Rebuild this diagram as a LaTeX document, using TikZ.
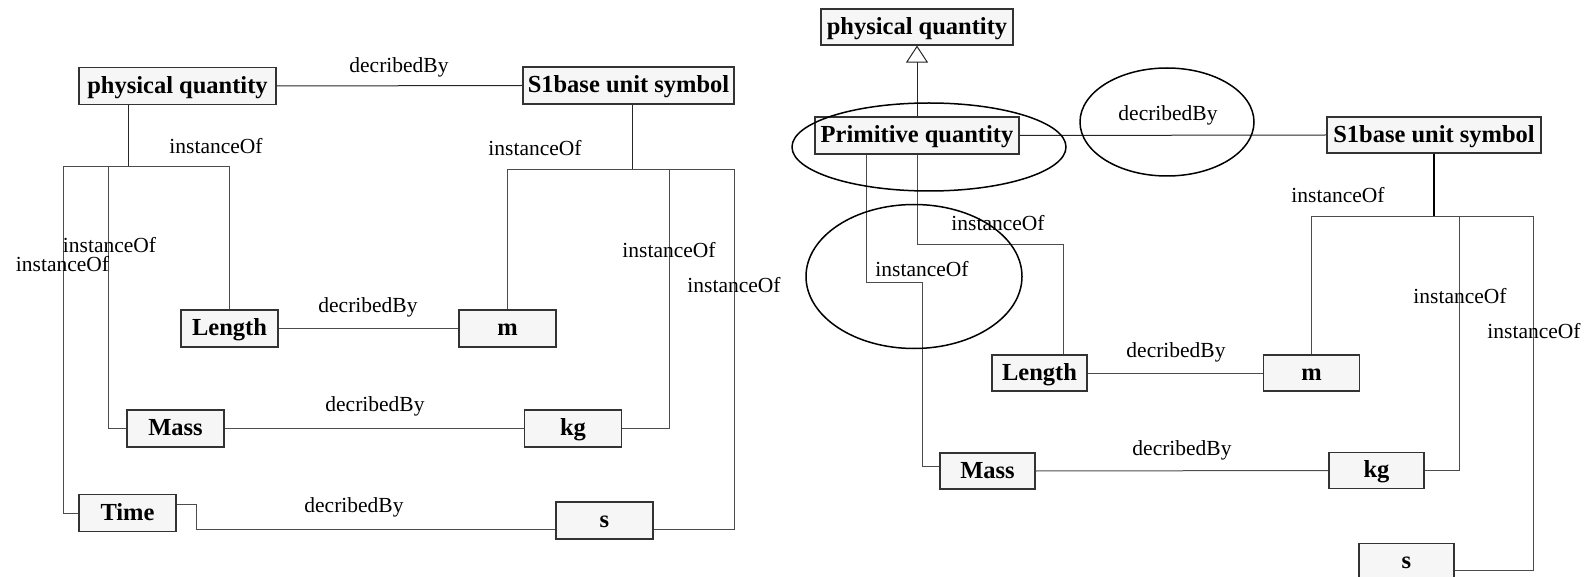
\documentclass[tikz,border=0pt]{standalone}
\usepackage{fontspec}
\setmainfont{Liberation Serif}
\usetikzlibrary{arrows.meta}
\tikzset{
  box/.style={draw=black!80, fill=gray!7, line width=1.1pt, inner sep=0pt, font=\fontsize{24.5}{26}\selectfont\bfseries, minimum height=37pt, text height=18pt, text depth=3.6pt},
  conn/.style={draw=black!70, line width=1pt},
  lab/.style={inner sep=0pt, font=\fontsize{21.5}{23}\selectfont},
  oval/.style={draw=black, line width=1.5pt}
}
\begin{document}
\begin{tikzpicture}[x=1pt,y=-1pt]
\useasboundingbox (0,0) rectangle (1585,577);
% ---------- left diagram ----------
\node[box, minimum width=197pt] (lpq) at (177.5,86) {physical quantity};
\node[box, minimum width=211pt] (ls1) at (628.5,85.5) {S1base unit symbol};
\node[box, minimum width=97pt] (llen) at (229.5,328.5) {Length};
\node[box, minimum width=97pt] (lmass) at (175.5,428.5) {Mass};
\node[box, minimum width=97pt] (ltime) at (127.5,513) {Time};
\node[box, minimum width=97pt] (lm) at (507.5,328.5) {m};
\node[box, minimum width=97pt] (lkg) at (573,428.5) {kg};
\node[box, minimum width=97pt] (ls) at (604.5,520.5) {s};

\coordinate (lj) at (128,167);
\coordinate (rj) at (632,170);
\draw[conn, draw=black!85] (lpq.east) -- (ls1.west);
\draw[conn, draw=black!85] (lpq.south -| lj) -- (lj);
\draw[conn] (lj) -| (llen.north);
\draw[conn] (lj) -- (63,167) |- (ltime.west);
\draw[conn] (108,167) |- (lmass.west);
\draw[conn, draw=black!85] (ls1.south -| rj) -- (rj);
\draw[conn] (rj) -| (lm.north);
\draw[conn] (669,170) |- (lkg.east);
\draw[conn] (rj) -- (734,170) |- ([yshift=-8.5pt]ls.east);
\draw[conn] (llen.east) -- (lm.west);
\draw[conn] (lmass.east) -- (lkg.west);
\draw[conn] ([yshift=9pt]ltime.east) -- ++(20,0) |- ([yshift=-8.5pt]ls.west);

\node[lab] (l1) at (399,67) {decribedBy};
\node[lab] (l2) at (216,146) {instanceOf};
\node[lab] (l3) at (109.5,245) {instanceOf};
\node[lab] (l4) at (62.5,264) {instanceOf};
\node[lab] (l5) at (535,148) {instanceOf};
\node[lab] (l6) at (669,250) {instanceOf};
\node[lab] (l7) at (734,285) {instanceOf};
\node[lab] (l8) at (368,307) {decribedBy};
\node[lab] (l9) at (375,406) {decribedBy};
\node[lab] (l10) at (354,507) {decribedBy};

% ---------- right diagram ----------
\node[box, minimum width=192pt, minimum height=36pt] (rpq) at (917,27) {physical quantity};
\node[box, minimum width=204pt] (rprim) at (917,135.5) {Primitive quantity};
\node[box, minimum width=214pt, minimum height=36pt] (rs1) at (1434,135) {S1base unit symbol};
\node[box, minimum width=95pt, minimum height=36pt] (rlen) at (1039.5,373) {Length};
\node[box, minimum width=95pt, minimum height=36pt] (rmass) at (987.5,471) {Mass};
\node[box, minimum width=96pt, minimum height=36pt] (rm) at (1311.5,373) {m};
\node[box, minimum width=95pt, minimum height=36pt] (rkg) at (1376.5,470.5) {kg};
\node[box, minimum width=95pt, minimum height=36pt] (rs) at (1406.5,561.5) {s};

\draw[conn, draw=black!85, -{Triangle[open, length=17pt, width=22pt, line width=1pt]}] (rprim.north) -- (rpq.south);
\draw[conn, draw=black!85] (rprim.east) -- (rs1.west);
\draw[conn] (rprim.south -| 866,0) -- (866,283) -- (922,283) |- ([yshift=5pt]rmass.west);
\draw[conn] (rprim.south) -- (917,245) -| ([xshift=23.5pt]rlen.north);
\draw[conn] (rlen.east) -- (rm.west);
\draw[conn] (rmass.east) -- (rkg.west);
\coordinate (rj2) at (1434,217);
\draw[conn, draw=black, line width=1.4pt] (rs1.south) -- (rj2);
\draw[conn] (rj2) -| (rm.north);
\draw[conn] (rj2) -- (1459,217) |- (rkg.east);
\draw[conn] (rj2) -- (1533,217) |- ([yshift=-8.5pt]rs.east);

\draw[oval] (929,147) ellipse [x radius=137pt, y radius=44pt];
\draw[oval] (1167,122) ellipse [x radius=87pt, y radius=54pt];
\draw[oval] (914,276.5) ellipse [x radius=108pt, y radius=72pt];

\node[lab] (r1) at (1168,115) {decribedBy};
\node[lab] (r2) at (998,223) {instanceOf};
\node[lab] (r3) at (922,269) {instanceOf};
\node[lab] (r4) at (1338,195) {instanceOf};
\node[lab] (r5) at (1460,296) {instanceOf};
\node[lab] (r6) at (1534,331) {instanceOf};
\node[lab] (r7) at (1176,352) {decribedBy};
\node[lab] (r8) at (1182,450) {decribedBy};
\end{tikzpicture}
\end{document}
